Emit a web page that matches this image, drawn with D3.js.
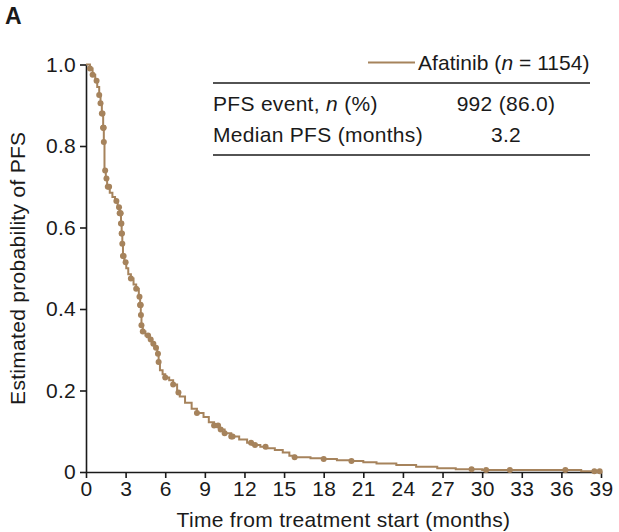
<!DOCTYPE html>
<html>
<head>
<meta charset="utf-8">
<script src="https://cdn.jsdelivr.net/npm/d3@7"></script>
<style>
  html, body { margin: 0; padding: 0; background: #fff; }
  svg text { font-family: "Liberation Sans", Arial, Helvetica, sans-serif; fill: #1a1a1a; letter-spacing: 0.3px; }
</style>
</head>
<body>
<svg id="chart" width="619" height="532"></svg>
<script>
// Kaplan–Meier progression-free survival, afatinib arm
const stepTimes = [0, 0.3, 0.5, 0.7, 0.85, 1.0, 1.1, 1.2, 1.3, 1.35, 1.4, 1.5, 1.6, 1.8, 2.0, 2.2, 2.4, 2.55, 2.65, 2.7, 2.75, 2.8, 2.9, 3.05, 3.2, 3.4, 3.6, 3.8, 4.0, 4.1, 4.15, 4.2, 4.3, 4.5, 4.8, 5.0, 5.2, 5.4, 5.5, 5.6, 5.8, 6.0, 6.3, 6.6, 6.9, 7.1, 7.5, 8.0, 8.4, 8.9, 9.3, 9.7, 10.1, 10.5, 11.0, 11.6, 12.2, 12.6, 13.2, 13.7, 14.3, 14.9, 15.4, 15.8, 17.0, 18.0, 19.0, 20.0, 21.0, 22.0, 23.5, 25.0, 26.6, 28.0, 30.0, 37.5];
const stepSurvival = [1.0, 0.99, 0.975, 0.96, 0.945, 0.925, 0.905, 0.88, 0.845, 0.81, 0.74, 0.72, 0.70, 0.685, 0.675, 0.665, 0.65, 0.635, 0.61, 0.585, 0.56, 0.53, 0.515, 0.50, 0.485, 0.475, 0.46, 0.45, 0.43, 0.41, 0.385, 0.36, 0.345, 0.335, 0.325, 0.315, 0.305, 0.29, 0.27, 0.25, 0.24, 0.232, 0.225, 0.215, 0.195, 0.185, 0.17, 0.155, 0.145, 0.135, 0.122, 0.114, 0.104, 0.095, 0.087, 0.08, 0.072, 0.066, 0.062, 0.058, 0.054, 0.048, 0.04, 0.036, 0.034, 0.032, 0.029, 0.027, 0.024, 0.021, 0.017, 0.013, 0.009, 0.007, 0.005, 0.002];
const censorTimes = [0.3, 0.5, 0.8, 1.0, 1.1, 1.2, 1.25, 1.3, 1.32, 1.33, 1.35, 1.45, 1.55, 1.65, 1.75, 2.3, 2.5, 2.55, 2.6, 2.62, 2.65, 2.68, 2.7, 2.72, 2.75, 2.8, 2.85, 3.0, 3.4, 3.8, 4.05, 4.1, 4.12, 4.14, 4.16, 4.2, 4.3, 4.7, 4.9, 5.1, 5.3, 5.45, 5.5, 6.0, 6.6, 7.0, 8.4, 9.7, 10.0, 10.2, 10.5, 11.0, 11.1, 12.5, 12.8, 13.6, 15.8, 18.0, 20.1, 29.2, 30.3, 32.1, 36.3, 38.5, 38.9];
const xTicks = [0, 3, 6, 9, 12, 15, 18, 21, 24, 27, 30, 33, 36, 39];
const yTicks = [0, 0.2, 0.4, 0.6, 0.8, 1.0];
const armLabel = "Afatinib";
const armN = 1154;
const tableRows = [
  { label: ["PFS event, ", "n", " (%)"], value: "992 (86.0)" },
  { label: ["Median PFS (months)"], value: "3.2" }
];

const curveColor = "#a6835c";
const fontSize = 21;
const svg = d3.select("#chart");
const margin = { left: 86, right: 18, top: 64.5, bottom: 60 };
const W = 619, H = 532;

const x = d3.scaleLinear().domain([0, 39]).range([margin.left, W - margin.right]);
const y = d3.scaleLinear().domain([0, 1]).range([H - margin.bottom, margin.top]);

// axes
const yAxis = d3.axisLeft(y).tickValues(yTicks).tickSize(6).tickSizeOuter(0).tickPadding(4)
  .tickFormat(d => d === 0 ? "0" : d.toFixed(1));
const xAxis = d3.axisBottom(x).tickValues(xTicks).tickSize(6).tickSizeOuter(0).tickPadding(3)
  .tickFormat(d3.format("d"));

const gy = svg.append("g").attr("transform", `translate(${margin.left},0)`).call(yAxis);
const gx = svg.append("g").attr("transform", `translate(0,${y(0)})`).call(xAxis);
[gx, gy].forEach(g => {
  g.select(".domain").attr("stroke", "#1a1a1a").attr("stroke-width", 1.6);
  g.selectAll(".tick line").attr("stroke", "#1a1a1a").attr("stroke-width", 1.6);
  g.selectAll(".tick text").attr("font-size", fontSize).attr("fill", "#1a1a1a")
    .style("font-family", '"Liberation Sans", Arial, sans-serif');
});

// axis titles
svg.append("text")
  .attr("x", (x(0) + x(39)) / 2).attr("y", 527)
  .attr("text-anchor", "middle").attr("font-size", fontSize)
  .text("Time from treatment start (months)");
svg.append("text")
  .attr("transform", `translate(25,${(y(0) + y(1)) / 2}) rotate(-90)`)
  .attr("text-anchor", "middle").attr("font-size", fontSize)
  .text("Estimated probability of PFS");

// panel letter
svg.append("text").attr("x", 5).attr("y", 24).attr("font-size", 23).attr("font-weight", "bold").text("A");

// survival curve
const pts = stepTimes.map((t, i) => [t, stepSurvival[i]]);
pts.push([39, stepSurvival[stepSurvival.length - 1]]);
const line = d3.line().x(d => x(d[0])).y(d => y(d[1])).curve(d3.curveStepAfter);
svg.append("path").datum(pts)
  .attr("d", line).attr("fill", "none")
  .attr("stroke", curveColor).attr("stroke-width", 2);

// censoring marks
const bis = d3.bisector(d => d).right;
const survAt = t => stepSurvival[Math.max(0, bis(stepTimes, t) - 1)];
svg.append("g").selectAll("circle").data(censorTimes).join("circle")
  .attr("cx", d => x(d)).attr("cy", d => y(survAt(d)))
  .attr("r", 3).attr("fill", curveColor);

// legend and summary table
const tableLeft = 213, tableRight = 590, valueCenter = 506;
svg.append("line").attr("x1", 368).attr("x2", 415).attr("y1", 62.5).attr("y2", 62.5)
  .attr("stroke", curveColor).attr("stroke-width", 2);
const leg = svg.append("text").attr("x", 418).attr("y", 70).attr("font-size", fontSize)
  .style("letter-spacing", "0.05px");
leg.append("tspan").text(armLabel + " (");
leg.append("tspan").attr("font-style", "italic").text("n");
leg.append("tspan").text(" = " + armN + ")");

svg.append("line").attr("x1", tableLeft).attr("x2", tableRight).attr("y1", 83).attr("y2", 83)
  .attr("stroke", "#1a1a1a").attr("stroke-width", 1.6);
svg.append("line").attr("x1", tableLeft).attr("x2", tableRight).attr("y1", 155).attr("y2", 155)
  .attr("stroke", "#1a1a1a").attr("stroke-width", 1.6);

tableRows.forEach((r, i) => {
  const yy = 110.5 + i * 31;
  const t = svg.append("text").attr("x", tableLeft).attr("y", yy).attr("font-size", fontSize);
  r.label.forEach(part => {
    const s = t.append("tspan").text(part);
    if (part === "n") s.attr("font-style", "italic");
  });
  svg.append("text").attr("x", valueCenter).attr("y", yy).attr("text-anchor", "middle")
    .attr("font-size", fontSize).text(r.value);
});
</script>
</body>
</html>
